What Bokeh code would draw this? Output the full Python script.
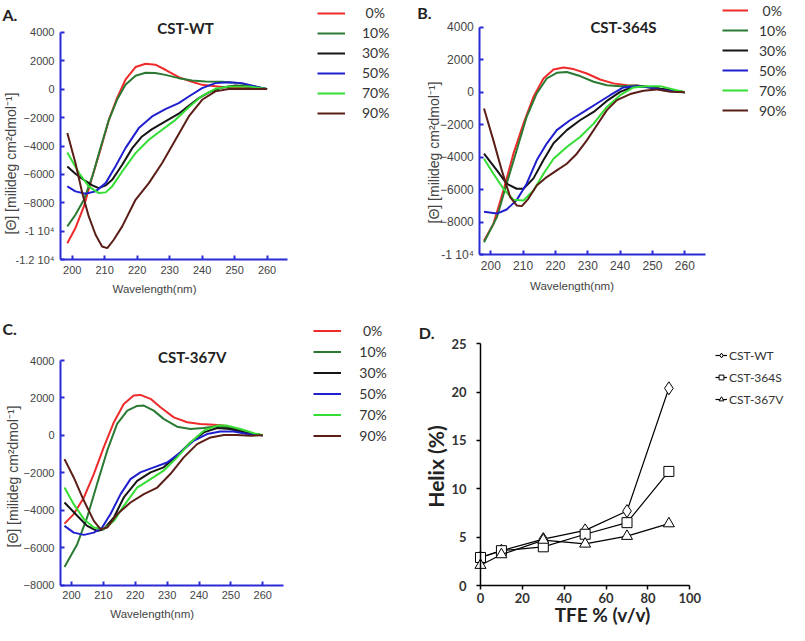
import math
from bokeh.plotting import figure
from bokeh.models import Label, Legend, LegendItem, FixedTicker, Range1d
from bokeh.layouts import row, column
from bokeh.embed import file_html
from bokeh.resources import INLINE

# ------------------------------------------------------------------ data
TFE_LABELS = [" 0%", "10%", "30%", "50%", "70%", "90%"]
WL_TICKS = [200, 210, 220, 230, 240, 250, 260]

# Panel A : CST-WT  (wavelength nm, mean residue ellipticity)
WT_0_NM = [198.5, 201.0, 203.6, 206.2, 208.7, 211.3, 213.8, 216.4, 219.5, 222.6, 225.6, 228.7, 232.8, 235.9, 240.0, 246.2, 252.3, 260.0]
WT_0_MRE = [-10830, -9770, -8250, -6140, -4260, -2160, -630, 660, 1550, 1780, 1720, 1360, 840, 590, 300, 140, 70, 0]
WT_10_NM = [198.5, 201.0, 203.6, 206.2, 208.7, 211.3, 213.8, 216.4, 219.5, 222.6, 225.6, 228.7, 232.8, 236.9, 241.0, 246.2, 251.3, 256.4, 260.0]
WT_10_MRE = [-9650, -8830, -7780, -6140, -4150, -2160, -750, 300, 940, 1150, 1130, 1000, 770, 610, 540, 520, 420, 190, 0]
WT_30_NM = [198.5, 201.0, 203.6, 206.2, 208.2, 210.3, 212.3, 215.4, 218.5, 221.5, 224.6, 228.7, 232.8, 235.9, 239.0, 242.1, 246.2, 250.3, 254.4, 260.0]
WT_30_MRE = [-5440, -5950, -6380, -6770, -6960, -6770, -6380, -5320, -4150, -3330, -2810, -2270, -1730, -1170, -630, -230, 120, 260, 190, 0]
WT_50_NM = [198.5, 201.0, 204.1, 207.2, 210.3, 213.3, 216.4, 220.5, 224.6, 228.7, 232.8, 235.9, 240.0, 244.1, 248.2, 252.3, 256.4, 260.0]
WT_50_MRE = [-6840, -7190, -7360, -7190, -6610, -5440, -4150, -2740, -1920, -1410, -980, -520, 70, 420, 490, 420, 190, 0]
WT_70_NM = [198.5, 202.1, 205.1, 208.2, 210.3, 212.3, 215.4, 219.5, 223.6, 227.7, 231.8, 235.9, 240.0, 244.1, 248.2, 254.4, 260.0]
WT_70_MRE = [-4450, -5900, -6840, -7310, -7260, -6840, -5790, -4500, -3560, -2860, -2160, -1270, -470, 20, 190, 190, 0]
WT_90_NM = [198.5, 201.0, 203.1, 205.1, 207.2, 209.2, 210.8, 212.8, 215.4, 219.5, 223.6, 227.7, 231.8, 235.9, 240.0, 244.1, 248.2, 254.4, 260.0]
WT_90_MRE = [-3090, -5200, -7310, -8950, -10240, -11060, -11180, -10590, -9650, -7780, -6610, -5200, -3560, -1920, -750, -160, 0, 20, 0]

# Panel B : CST-364S
S_0_NM = [197.9, 200.8, 203.9, 207.0, 210.1, 213.2, 216.3, 219.4, 222.5, 225.6, 229.7, 233.8, 237.9, 242.1, 245.2, 249.3, 255.5, 260.0]
S_0_MRE = [-9150, -8120, -6060, -3790, -1940, -290, 840, 1400, 1520, 1420, 1150, 780, 540, 430, 410, 290, 120, 0]
S_10_NM = [197.9, 201.9, 204.9, 208.0, 211.1, 214.2, 217.3, 220.4, 223.5, 227.6, 231.8, 235.9, 240.0, 245.2, 249.3, 255.5, 260.0]
S_10_MRE = [-9250, -7700, -5640, -3580, -1520, -80, 840, 1190, 1240, 990, 640, 430, 370, 410, 290, 120, 0]
S_30_NM = [197.9, 201.9, 204.9, 208.0, 210.1, 213.2, 216.3, 219.4, 223.5, 227.6, 231.8, 235.9, 240.0, 244.1, 248.2, 252.4, 260.0]
S_30_MRE = [-3790, -4820, -5640, -5950, -5950, -5310, -4180, -3150, -2340, -1730, -1220, -540, 20, 330, 330, 210, 0]
S_50_NM = [197.9, 201.9, 204.9, 208.0, 211.1, 214.2, 217.3, 220.4, 224.5, 228.7, 232.8, 236.9, 241.0, 245.2, 249.3, 253.4, 260.0]
S_50_MRE = [-7370, -7480, -7230, -6650, -5640, -4200, -3170, -2340, -1730, -1220, -700, -190, 290, 370, 290, 120, 0]
S_70_NM = [197.9, 200.8, 203.9, 207.0, 210.1, 213.2, 216.3, 219.4, 223.5, 227.6, 231.8, 235.9, 240.0, 244.1, 248.2, 252.4, 256.5, 260.0]
S_70_MRE = [-4100, -5030, -5950, -6630, -6670, -6060, -5030, -4100, -3380, -2760, -1940, -910, -190, 290, 370, 370, 160, 0]
S_90_NM = [197.9, 200.8, 203.4, 206.0, 208.0, 209.6, 211.6, 214.2, 217.3, 220.4, 223.5, 226.6, 229.7, 232.8, 235.9, 239.0, 243.1, 247.2, 251.3, 255.5, 260.0]
S_90_MRE = [-1010, -2970, -4820, -6470, -6980, -7020, -6570, -5750, -5230, -4820, -4410, -3790, -2970, -2040, -1110, -490, -120, 80, 170, 20, 0]

# Panel C : CST-367V
V_0_NM = [197.8, 200.7, 203.9, 207.0, 210.1, 213.3, 216.4, 219.5, 221.6, 224.8, 227.9, 232.1, 236.3, 240.4, 244.6, 247.8, 251.9, 256.1, 260.0]
V_0_MRE = [-4720, -4210, -3320, -2070, -640, 700, 1680, 2130, 2160, 1950, 1500, 960, 700, 610, 570, 520, 290, 70, 0]
V_10_NM = [197.8, 201.8, 204.9, 208.0, 211.2, 214.3, 217.5, 220.6, 222.7, 225.8, 228.9, 233.1, 237.3, 241.5, 245.7, 249.8, 256.1, 260.0]
V_10_MRE = [-7040, -5820, -4390, -2610, -820, 610, 1320, 1570, 1590, 1320, 880, 460, 340, 390, 480, 390, 110, 0]
V_30_NM = [197.8, 201.8, 204.9, 208.0, 210.1, 213.3, 216.4, 220.6, 224.8, 228.9, 233.1, 237.3, 241.5, 245.7, 249.8, 254.0, 260.0]
V_30_MRE = [-3590, -4300, -4840, -5110, -5020, -4390, -3320, -2430, -1980, -1710, -1090, -380, 160, 390, 340, 160, 0]
V_50_NM = [197.8, 200.7, 203.9, 207.0, 209.6, 212.2, 215.4, 218.5, 221.6, 225.8, 230.0, 234.2, 238.3, 242.5, 246.7, 250.9, 255.1, 260.0]
V_50_MRE = [-4840, -5200, -5320, -5200, -4930, -4220, -3140, -2340, -1980, -1710, -1450, -910, -290, 70, 210, 210, 70, 0]
V_70_NM = [197.8, 200.7, 203.9, 207.0, 210.1, 213.3, 216.4, 220.6, 224.8, 228.9, 233.1, 237.3, 241.5, 245.7, 248.8, 253.0, 257.2, 260.0]
V_70_MRE = [-2790, -3680, -4480, -4930, -5020, -4570, -3770, -2790, -2340, -1890, -1180, -380, 250, 520, 520, 340, 110, 0]
V_90_NM = [197.8, 200.7, 203.9, 207.0, 209.1, 211.2, 214.3, 218.5, 222.7, 226.9, 231.0, 235.2, 239.4, 243.6, 247.8, 251.9, 256.1, 260.0]
V_90_MRE = [-1270, -2250, -3500, -4570, -5020, -4930, -4220, -3590, -3140, -2790, -2070, -1180, -470, -110, 20, 20, -20, 0]

# Panel D : helix content vs TFE
TFE = [0, 10, 30, 50, 70, 90]
HELIX_WT = [2.9, 3.6, 4.8, 5.7, 7.7, 20.4]
HELIX_364S = [2.9, 3.6, 4.0, 5.3, 6.5, 11.8]
HELIX_367V = [2.1, 3.2, 4.7, 4.3, 5.1, 6.4]
D_NAMES = ["CST-WT", "CST-364S", "CST-367V"]
D_X_TICKS = [0, 20, 40, 60, 80, 100]
D_Y_TICKS = [0, 5, 10, 15, 20, 25]

# ------------------------------------------------------------------ styles
LINE_COLORS = ["#ee2a2a", "#2a7a33", "#151515", "#1f1fcf", "#33dd33", "#5a1e16"]
AXIS_BLUE = "#2b2bd6"
TXT = "#444444"


class Geo:
    """Figure placed at picture position (ox, oy) with size w x h; its axes
    occupy the picture box (l, t, r, b) which spans the data ranges xr, yr."""
    def __init__(self, ox, oy, w, h, box, xr, yr):
        l, t, r, b = box
        self.ox, self.oy, self.w, self.h = ox, oy, w, h
        self.xr, self.yr = xr, yr
        sx = (r - l) / (xr[1] - xr[0])
        sy = (b - t) / (yr[1] - yr[0])
        self.X = (xr[0] - (l - ox) / sx, xr[0] + (ox + w - l) / sx)
        self.Y = (yr[1] - (oy + h - t) / sy, yr[1] + (t - oy) / sy)

    def x(self, px):
        return self.X[0] + (px - self.ox) / self.w * (self.X[1] - self.X[0])

    def y(self, py):
        return self.Y[1] - (py - self.oy) / self.h * (self.Y[1] - self.Y[0])

    def legend_loc(self, page_left, page_top, height):
        return (page_left - self.ox, (self.oy + self.h) - (page_top + height))


def base_fig(g):
    p = figure(width=g.w, height=g.h, x_range=Range1d(*g.X), y_range=Range1d(*g.Y),
               output_backend="svg", toolbar_location=None,
               min_border_left=0, min_border_right=0, min_border_top=0, min_border_bottom=0)
    p.xgrid.visible = False
    p.ygrid.visible = False
    p.outline_line_color = None
    p.background_fill_color = "white"
    p.border_fill_color = "white"
    p.xaxis.fixed_location = g.yr[0]
    p.yaxis.fixed_location = g.xr[0]
    p.xaxis.bounds = g.xr
    p.yaxis.bounds = g.yr
    return p


def add_label(p, g, text, px, py, size, font="Lato", style="normal", color="#222222",
              align="center", angle=0.0):
    p.add_layout(Label(x=g.x(px), y=g.y(py), text=text, text_font=font,
                       text_font_size=size, text_font_style=style, text_color=color,
                       text_align=align, text_baseline="middle", angle=angle))


def cd_panel(g, series, yticks, overrides, tick_size, title, title_xy, letter, letter_xy,
             ylab_xy, xlab_xy, leg_left, leg_top, row_h, glyph_w, standoff):
    p = base_fig(g)
    renderers = []
    for (xs, ys), col in zip(series, LINE_COLORS):
        renderers.append(p.line(xs, ys, line_color=col, line_width=2))

    p.xaxis.ticker = FixedTicker(ticks=WL_TICKS)
    p.yaxis.ticker = FixedTicker(ticks=yticks)
    p.yaxis.major_label_overrides = overrides
    for ax in (p.xaxis[0], p.yaxis[0]):
        ax.axis_line_color = AXIS_BLUE
        ax.axis_line_width = 2
        ax.major_tick_line_color = AXIS_BLUE
        ax.major_tick_line_width = 2
        ax.major_tick_in = 4
        ax.major_tick_out = 0
        ax.minor_tick_line_color = None
        ax.major_label_text_font = "Liberation Sans"
        ax.major_label_text_font_size = tick_size
        ax.major_label_text_color = TXT
        ax.major_label_standoff = 6

    legend = Legend(items=[LegendItem(label=lab, renderers=[r]) for lab, r in zip(TFE_LABELS, renderers)],
                    location=g.legend_loc(leg_left, leg_top, row_h * 6),
                    glyph_width=glyph_w, glyph_height=row_h, label_height=row_h,
                    label_standoff=standoff, spacing=0, padding=0, margin=0,
                    label_text_font="Lato", label_text_font_size="14px", label_text_color="#333333",
                    border_line_color=None, background_fill_alpha=0)
    p.add_layout(legend)
    add_label(p, g, title, title_xy[0], title_xy[1], "15px", style="bold")
    add_label(p, g, letter, letter_xy[0], letter_xy[1], "16px", style="bold", align="left")
    add_label(p, g, "[\u0398] [milideg cm\u00b2dmol\u207b\u00b9]", ylab_xy[0], ylab_xy[1], "14px",
              font="Liberation Sans", color=TXT, angle=math.pi / 2)
    add_label(p, g, "Wavelength(nm)", xlab_xy[0], xlab_xy[1], "11.5px",
              font="Liberation Sans", color=TXT)
    return p


# ------------------------------------------------------------------ panels
gA = Geo(0, 0, 400, 300, (60, 31.7, 286.7, 259.3), (196.4, 266.2), (-12000, 4000))
pA = cd_panel(gA,
              [(WT_0_NM, WT_0_MRE), (WT_10_NM, WT_10_MRE), (WT_30_NM, WT_30_MRE),
               (WT_50_NM, WT_50_MRE), (WT_70_NM, WT_70_MRE), (WT_90_NM, WT_90_MRE)],
              [4000, 2000, 0, -2000, -4000, -6000, -8000, -10000, -12000],
              {-10000: "-1 10\u2074", -12000: "-1.2 10\u2074"}, "11px",
              "CST-WT", (185, 27.5), "A.", (2, 13.5), (10, 163), (154, 288),
              317, 2.5, 20, 28, 17)

gB = Geo(400, 0, 389, 300, (479.3, 26.7, 705, 254), (196.6, 266.4), (-10000, 4000))
pB = cd_panel(gB,
              [(S_0_NM, S_0_MRE), (S_10_NM, S_10_MRE), (S_30_NM, S_30_MRE),
               (S_50_NM, S_50_MRE), (S_70_NM, S_70_MRE), (S_90_NM, S_90_MRE)],
              [4000, 2000, 0, -2000, -4000, -6000, -8000, -10000],
              {-10000: "-1 10\u2074"}, "12px",
              "CST-364S", (623, 26), "B.", (416.7, 11.5), (433, 152), (571.5, 285),
              722, 0, 20, 26, 11)

gC = Geo(0, 300, 400, 325, (60, 360, 282.7, 584.5), (196.55, 266.4), (-8000, 4000))
pC = cd_panel(gC,
              [(V_0_NM, V_0_MRE), (V_10_NM, V_10_MRE), (V_30_NM, V_30_MRE),
               (V_50_NM, V_50_MRE), (V_70_NM, V_70_MRE), (V_90_NM, V_90_MRE)],
              [4000, 2000, 0, -2000, -4000, -6000, -8000],
              {}, "11px",
              "CST-367V", (191.7, 356.7), "C.", (2, 328), (12, 476), (151.7, 613),
              313.3, 319.5, 21, 28, 18)

gD = Geo(400, 300, 389, 325, (480, 343.3, 689.3, 585), (0, 100), (0, 25))
pD = base_fig(gD)
d_items = []
for ys, mk, sz in zip([HELIX_WT, HELIX_364S, HELIX_367V], ["diamond", "square", "triangle"], [13, 10, 11]):
    lr = pD.line(TFE, ys, line_color="black", line_width=1.2)
    sr = pD.scatter(TFE, ys, marker=mk, size=sz, fill_color="white", line_color="black", line_width=1)
    d_items.append((lr, sr))
pD.xaxis.ticker = FixedTicker(ticks=D_X_TICKS)
pD.yaxis.ticker = FixedTicker(ticks=D_Y_TICKS)
for ax in (pD.xaxis[0], pD.yaxis[0]):
    ax.axis_line_color = "black"
    ax.axis_line_width = 1.5
    ax.major_tick_line_color = "black"
    ax.major_tick_line_width = 1.5
    ax.major_tick_in = 0
    ax.major_tick_out = 4
    ax.minor_tick_line_color = None
    ax.major_label_text_font = "Lato"
    ax.major_label_text_font_style = "bold"
    ax.major_label_text_font_size = "13px"
    ax.major_label_text_color = "#333333"
pD.yaxis.major_label_standoff = 10
pD.xaxis.major_label_standoff = 3
d_legend = Legend(items=[LegendItem(label=n, renderers=[lr, sr]) for n, (lr, sr) in zip(D_NAMES, d_items)],
                  location=gD.legend_loc(715, 344, 66),
                  glyph_width=12, glyph_height=22, label_height=22, label_standoff=2,
                  spacing=0, padding=0, margin=0,
                  label_text_font="Lato", label_text_font_size="12px", label_text_color="#333333",
                  border_line_color=None, background_fill_alpha=0)
pD.add_layout(d_legend)
add_label(pD, gD, "D.", 418.3, 331.7, "16px", style="bold", align="left")
add_label(pD, gD, "Helix (%)", 435, 466, "21px", style="bold", angle=math.pi / 2)
add_label(pD, gD, "TFE % (v/v)", 602, 614, "19px", style="bold")

layout = column(row(pA, pB), row(pC, pD))
open("out.html", "w").write(file_html(layout, INLINE))
